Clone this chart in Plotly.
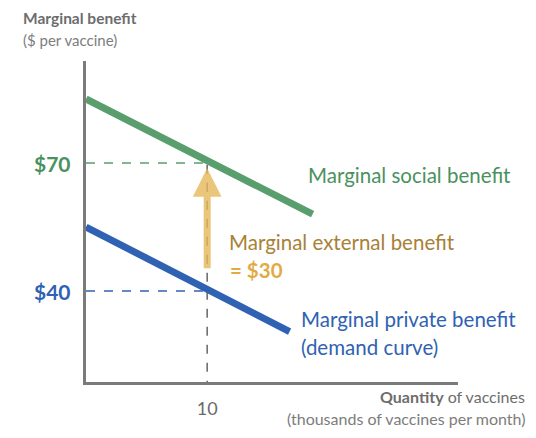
import plotly.graph_objects as go

# quantity (thousands of vaccines per month) and marginal benefit ($ per vaccine)
social_q = [0, 18.7]
social_mb = [85, 58]
private_q = [0, 16.8]
private_mb = [55, 30.5]

eq_q = 10
eq_social = 70
eq_private = 40
arrow_from = 45

x_ticks = [10]
x_ticklabels = ["10"]

GREEN = "#5a9e6e"
GREEN_TXT = "#4a9160"
BLUE = "#2f62b2"
GOLD = "rgba(228,184,88,0.8)"
GOLD_TXT = "#a88137"
GOLD_BOLD = "#e2aa45"
AXIS = "#7b7b7b"
FONT = "Lato"

fig = go.Figure()

# guide lines
fig.add_trace(go.Scatter(x=[0, eq_q], y=[eq_social, eq_social], mode="lines",
                         line=dict(color=GREEN, width=1.5, dash="dash"), hoverinfo="skip"))
fig.add_trace(go.Scatter(x=[0, eq_q], y=[eq_private, eq_private], mode="lines",
                         line=dict(color=BLUE, width=1.5, dash="dash"), hoverinfo="skip"))
fig.add_trace(go.Scatter(x=[eq_q, eq_q], y=[0, eq_social], mode="lines",
                         line=dict(color="#666", width=1.5, dash="dash"), hoverinfo="skip"))

# curves
fig.add_trace(go.Scatter(x=social_q, y=social_mb, mode="lines",
                         line=dict(color=GREEN, width=7), hoverinfo="skip"))
fig.add_trace(go.Scatter(x=private_q, y=private_mb, mode="lines",
                         line=dict(color=BLUE, width=7), hoverinfo="skip"))

ann = []
# arrow for external benefit
ann.append(dict(x=eq_q, y=eq_social - 1.2, ax=eq_q, ay=arrow_from, xref="x", yref="y",
                axref="x", ayref="y", text="", showarrow=True, arrowhead=2,
                arrowsize=0.82, arrowwidth=7, arrowcolor=GOLD))

ann.append(dict(x=0, y=eq_social, xref="x", yref="y", xanchor="right", xshift=-13,
                text="<b>$70</b>", showarrow=False,
                font=dict(family=FONT, size=21, color=GREEN_TXT)))
ann.append(dict(x=0, y=eq_private, xref="x", yref="y", xanchor="right", xshift=-13,
                text="<b>$40</b>", showarrow=False,
                font=dict(family=FONT, size=21, color=BLUE)))

ann.append(dict(x=306, y=175, xref="paper", yref="paper", text="Marginal social benefit",
                showarrow=False, xanchor="left", font=dict(family=FONT, size=20.5, color=GREEN_TXT)))
ann.append(dict(x=227, y=242, xref="paper", yref="paper", text="Marginal external benefit",
                showarrow=False, xanchor="left", font=dict(family=FONT, size=20.5, color=GOLD_TXT)))
ann.append(dict(x=228, y=270, xref="paper", yref="paper", text="<b>= $30</b>",
                showarrow=False, xanchor="left", font=dict(family=FONT, size=20.5, color=GOLD_BOLD)))
ann.append(dict(x=299, y=319, xref="paper", yref="paper", text="Marginal private benefit",
                showarrow=False, xanchor="left", font=dict(family=FONT, size=20.5, color=BLUE)))
ann.append(dict(x=299, y=347, xref="paper", yref="paper", text="(demand curve)",
                showarrow=False, xanchor="left", font=dict(family=FONT, size=20.5, color=BLUE)))

ann.append(dict(x=21, y=18, xref="paper", yref="paper", text="<b>Marginal benefit</b>",
                showarrow=False, xanchor="left", font=dict(family=FONT, size=15.5, color="#6d6d6d")))
ann.append(dict(x=21, y=40, xref="paper", yref="paper", text="($ per vaccine)",
                showarrow=False, xanchor="left", font=dict(family=FONT, size=15, color="#7d7d7d")))
ann.append(dict(x=527, y=397, xref="paper", yref="paper",
                text="<b>Quantity</b> of vaccines",
                showarrow=False, xanchor="right", font=dict(family=FONT, size=16, color="#6d6d6d")))
ann.append(dict(x=527, y=418, xref="paper", yref="paper",
                text="(thousands of vaccines per month)",
                showarrow=False, xanchor="right", font=dict(family=FONT, size=16, color="#7d7d7d")))

# convert pixel-positioned labels into paper coordinates
W, H = 536, 438
L, R, T, B = 86, 78, 61, 56
for a in ann:
    if a["xref"] == "paper":
        a["x"] = (a["x"] - L) / (W - L - R)
        a["y"] = 1 - (a["y"] - T) / (H - T - B)
        a["yanchor"] = "middle"

fig.update_layout(
    width=W, height=H,
    margin=dict(l=L, r=R, t=T, b=B),
    paper_bgcolor="white", plot_bgcolor="white",
    showlegend=False,
    annotations=ann,
    xaxis=dict(range=[0, 30.7], showgrid=False, zeroline=False, showline=True,
               linecolor=AXIS, linewidth=3, tickvals=x_ticks, ticktext=x_ticklabels,
               ticks="", ticklabelstandoff=8,
               tickfont=dict(family=FONT, size=18, color="#6a6a6a")),
    yaxis=dict(range=[18.7, 93.9], showgrid=False, zeroline=False, showline=True,
               linecolor=AXIS, linewidth=3, showticklabels=False, ticks=""),
)

fig.write_html("out.html", config={"displayModeBar": False},
               post_script="document.body.style.margin='0';")
